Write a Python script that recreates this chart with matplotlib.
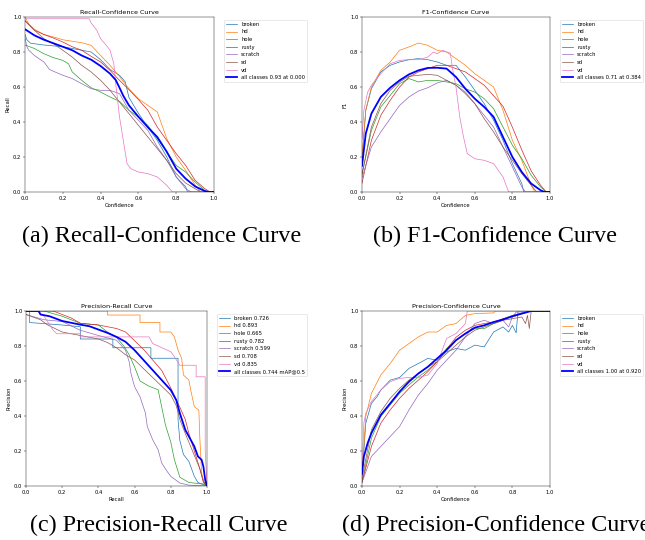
import matplotlib
matplotlib.use("Agg")
import matplotlib.pyplot as plt

# les 7 classes de défauts + courbe moyenne
CLASSES = ["broken", "hd", "hole", "rusty", "scratch", "sd", "vd"]
PR_AP = [0.726, 0.893, 0.665, 0.782, 0.599, 0.708, 0.835]

# (a) Recall-Confidence : {classe: (confiance, rappel)}
RC = {
    "broken": ([0, 0.01, 0.03, 0.1, 0.2, 0.3, 0.35, 0.4, 0.45, 0.5, 0.53, 0.55, 0.6, 0.65, 0.7, 0.75, 0.8, 0.85, 0.86, 1.0],
               [0.9, 0.87, 0.85, 0.84, 0.83, 0.81, 0.80, 0.756, 0.70, 0.667, 0.63, 0.54, 0.45, 0.37, 0.295, 0.2, 0.086, 0.03, 0, 0]),
    "hd": ([0, 0.02, 0.05, 0.1, 0.17, 0.2, 0.3, 0.35, 0.4, 0.45, 0.5, 0.55, 0.6, 0.65, 0.7, 0.75, 0.8, 0.85, 0.9, 0.93, 1.0],
           [1.0, 0.96, 0.93, 0.90, 0.88, 0.87, 0.853, 0.838, 0.78, 0.724, 0.66, 0.59, 0.533, 0.495, 0.457, 0.305, 0.2, 0.124, 0.04, 0, 0]),
    "hole": ([0, 0.05, 0.1, 0.15, 0.2, 0.23, 0.25, 0.3, 0.35, 0.4, 0.45, 0.5, 0.55, 0.6, 0.65, 0.7, 0.75, 0.8, 0.85, 0.9, 0.95, 0.97, 1.0],
             [0.84, 0.82, 0.79, 0.768, 0.752, 0.733, 0.686, 0.638, 0.596, 0.571, 0.543, 0.518, 0.467, 0.429, 0.381, 0.305, 0.229, 0.152, 0.114, 0.057, 0.01, 0, 0]),
    "rusty": ([0, 0.05, 0.1, 0.15, 0.2, 0.25, 0.3, 0.35, 0.4, 0.45, 0.5, 0.55, 0.6, 0.65, 0.7, 0.75, 0.8, 0.85, 0.9, 0.95, 0.98, 1.0],
              [0.977, 0.924, 0.9, 0.88, 0.857, 0.83, 0.81, 0.775, 0.743, 0.695, 0.638, 0.585, 0.528, 0.467, 0.371, 0.295, 0.219, 0.152, 0.067, 0.02, 0, 0]),
    "scratch": ([0, 0.01, 0.02, 0.05, 0.1, 0.13, 0.15, 0.2, 0.25, 0.3, 0.35, 0.4, 0.45, 0.5, 0.55, 0.6, 0.65, 0.7, 0.75, 0.8, 0.85, 0.88, 1.0],
                [0.88, 0.83, 0.81, 0.78, 0.743, 0.70, 0.69, 0.667, 0.648, 0.619, 0.59, 0.581, 0.581, 0.562, 0.467, 0.41, 0.352, 0.257, 0.181, 0.086, 0.019, 0, 0]),
    "sd": ([0, 0.05, 0.1, 0.15, 0.2, 0.25, 0.3, 0.35, 0.4, 0.45, 0.5, 0.55, 0.6, 0.65, 0.7, 0.75, 0.8, 0.85, 0.9, 0.93, 1.0],
           [0.98, 0.924, 0.876, 0.848, 0.81, 0.771, 0.724, 0.686, 0.638, 0.581, 0.514, 0.448, 0.381, 0.314, 0.248, 0.181, 0.105, 0.051, 0.019, 0, 0]),
    "vd": ([0, 0.34, 0.35, 0.38, 0.4, 0.43, 0.45, 0.47, 0.48, 0.5, 0.52, 0.54, 0.56, 0.6, 0.65, 0.7, 0.75, 0.78, 1.0],
           [0.99, 0.99, 0.966, 0.924, 0.876, 0.838, 0.81, 0.733, 0.619, 0.429, 0.295, 0.162, 0.133, 0.114, 0.105, 0.086, 0.038, 0, 0]),
}
RC_ALL = ([0, 0.05, 0.1, 0.2, 0.25, 0.3, 0.35, 0.4, 0.45, 0.48, 0.5, 0.52, 0.55, 0.6, 0.65, 0.7, 0.75, 0.8, 0.85, 0.9, 0.95, 0.97, 1.0],
          [0.93, 0.895, 0.87, 0.83, 0.81, 0.78, 0.756, 0.72, 0.676, 0.64, 0.596, 0.55, 0.495, 0.43, 0.37, 0.314, 0.23, 0.133, 0.076, 0.032, 0.006, 0, 0])

# (b) F1-Confidence
F1 = {
    "broken": ([0, 0.02, 0.05, 0.1, 0.15, 0.2, 0.25, 0.3, 0.35, 0.4, 0.45, 0.5, 0.55, 0.6, 0.65, 0.7, 0.75, 0.8, 0.85, 0.86, 1.0],
               [0.18, 0.467, 0.59, 0.686, 0.724, 0.743, 0.756, 0.762, 0.756, 0.743, 0.724, 0.724, 0.657, 0.581, 0.505, 0.41, 0.295, 0.162, 0.048, 0, 0]),
    "hd": ([0, 0.02, 0.05, 0.1, 0.15, 0.2, 0.25, 0.3, 0.35, 0.4, 0.45, 0.5, 0.55, 0.6, 0.65, 0.7, 0.75, 0.8, 0.85, 0.9, 0.92, 1.0],
           [0.2, 0.467, 0.6, 0.695, 0.743, 0.81, 0.829, 0.851, 0.838, 0.81, 0.8, 0.762, 0.724, 0.676, 0.638, 0.6, 0.467, 0.295, 0.181, 0.038, 0, 0]),
    "hole": ([0, 0.05, 0.1, 0.15, 0.2, 0.25, 0.3, 0.35, 0.4, 0.45, 0.5, 0.55, 0.6, 0.65, 0.7, 0.75, 0.8, 0.85, 0.9, 0.95, 0.98, 1.0],
             [0.1, 0.352, 0.486, 0.552, 0.619, 0.648, 0.629, 0.638, 0.638, 0.629, 0.619, 0.59, 0.571, 0.533, 0.476, 0.371, 0.267, 0.19, 0.095, 0.029, 0, 0]),
    "rusty": ([0, 0.05, 0.1, 0.15, 0.2, 0.25, 0.3, 0.35, 0.4, 0.45, 0.5, 0.55, 0.6, 0.65, 0.7, 0.75, 0.8, 0.85, 0.9, 0.95, 0.98, 1.0],
              [0.05, 0.295, 0.438, 0.524, 0.6, 0.657, 0.686, 0.705, 0.724, 0.724, 0.705, 0.686, 0.648, 0.61, 0.55, 0.49, 0.37, 0.24, 0.12, 0.038, 0, 0]),
    "scratch": ([0, 0.05, 0.1, 0.15, 0.2, 0.25, 0.3, 0.35, 0.4, 0.45, 0.5, 0.55, 0.6, 0.65, 0.7, 0.75, 0.8, 0.85, 0.87, 1.0],
                [0.08, 0.257, 0.343, 0.419, 0.495, 0.543, 0.577, 0.596, 0.623, 0.638, 0.61, 0.571, 0.505, 0.438, 0.371, 0.257, 0.143, 0.029, 0, 0]),
    "sd": ([0, 0.05, 0.1, 0.15, 0.2, 0.25, 0.3, 0.35, 0.4, 0.45, 0.5, 0.55, 0.6, 0.65, 0.7, 0.75, 0.8, 0.85, 0.9, 0.93, 1.0],
           [0.1, 0.371, 0.505, 0.581, 0.629, 0.661, 0.667, 0.672, 0.667, 0.638, 0.61, 0.562, 0.505, 0.419, 0.343, 0.257, 0.181, 0.105, 0.038, 0, 0]),
    "vd": ([0, 0.01, 0.03, 0.05, 0.1, 0.15, 0.2, 0.25, 0.3, 0.35, 0.38, 0.4, 0.43, 0.45, 0.47, 0.48, 0.5, 0.52, 0.54, 0.56, 0.6, 0.65, 0.7, 0.75, 0.78, 1.0],
           [0.3, 0.467, 0.571, 0.61, 0.676, 0.733, 0.752, 0.756, 0.756, 0.771, 0.8, 0.79, 0.81, 0.8, 0.794, 0.714, 0.6, 0.429, 0.314, 0.219, 0.19, 0.181, 0.162, 0.086, 0, 0]),
}
F1_ALL = ([0, 0.02, 0.05, 0.1, 0.15, 0.2, 0.25, 0.3, 0.35, 0.4, 0.45, 0.5, 0.55, 0.6, 0.65, 0.7, 0.75, 0.8, 0.85, 0.9, 0.95, 0.97, 1.0],
          [0.15, 0.333, 0.448, 0.543, 0.596, 0.638, 0.672, 0.695, 0.709, 0.71, 0.705, 0.657, 0.59, 0.533, 0.486, 0.429, 0.314, 0.2, 0.114, 0.048, 0.01, 0, 0])

# (c) Precision-Recall : {classe: (rappel, précision)}
PR = {
    "broken": ([0, 0.02, 0.02, 0.2, 0.3, 0.3, 0.43, 0.48, 0.48, 0.69, 0.69, 0.84, 0.84, 0.85, 0.87, 0.9, 0.93, 0.95, 1.0],
               [1.0, 1.0, 0.934, 0.92, 0.91, 0.84, 0.84, 0.84, 0.79, 0.79, 0.73, 0.73, 0.38, 0.26, 0.18, 0.14, 0.055, 0.02, 0.0]),
    "hd": ([0, 0.45, 0.45, 0.63, 0.63, 0.74, 0.74, 0.8, 0.82, 0.84, 0.86, 0.87, 0.9, 0.91, 0.93, 0.955, 0.96, 0.97, 0.99, 1.0],
           [1.0, 1.0, 0.977, 0.977, 0.934, 0.934, 0.88, 0.88, 0.852, 0.776, 0.729, 0.634, 0.605, 0.548, 0.453, 0.434, 0.283, 0.074, 0.0, 0.0]),
    "hole": ([0, 0.1, 0.2, 0.3, 0.4, 0.45, 0.5, 0.54, 0.57, 0.6, 0.63, 0.68, 0.73, 0.75, 0.77, 0.8, 0.82, 0.85, 0.9, 0.99, 1.0],
             [1.0, 1.0, 0.97, 0.93, 0.92, 0.88, 0.85, 0.8, 0.75, 0.68, 0.6, 0.57, 0.55, 0.45, 0.35, 0.25, 0.15, 0.05, 0.02, 0.01, 0.0]),
    "rusty": ([0, 0.15, 0.2, 0.25, 0.3, 0.4, 0.5, 0.55, 0.6, 0.65, 0.7, 0.75, 0.8, 0.85, 0.88, 0.9, 0.93, 0.96, 0.98, 1.0],
              [1.0, 1.0, 0.98, 0.96, 0.93, 0.92, 0.9, 0.88, 0.83, 0.78, 0.72, 0.66, 0.56, 0.45, 0.38, 0.3, 0.2, 0.1, 0.02, 0.0]),
    "scratch": ([0, 0.1, 0.2, 0.3, 0.4, 0.5, 0.55, 0.57, 0.58, 0.6, 0.63, 0.66, 0.67, 0.7, 0.73, 0.75, 0.78, 0.8, 0.85, 0.9, 1.0],
                [0.98, 0.95, 0.94, 0.89, 0.86, 0.833, 0.776, 0.71, 0.643, 0.567, 0.51, 0.416, 0.34, 0.264, 0.207, 0.131, 0.083, 0.055, 0.017, 0.005, 0.0]),
    "sd": ([0, 0.08, 0.12, 0.2, 0.3, 0.4, 0.45, 0.5, 0.55, 0.6, 0.65, 0.7, 0.75, 0.8, 0.83, 0.85, 0.88, 0.92, 0.96, 0.98, 1.0],
           [0.98, 0.95, 0.92, 0.88, 0.86, 0.84, 0.82, 0.79, 0.75, 0.72, 0.67, 0.62, 0.57, 0.52, 0.46, 0.38, 0.3, 0.2, 0.1, 0.03, 0.0]),
    "vd": ([0, 0.06, 0.1, 0.15, 0.17, 0.3, 0.3, 0.68, 0.7, 0.8, 0.82, 0.85, 0.94, 0.94, 0.99, 0.99, 1.0],
           [1.0, 1.0, 0.97, 0.89, 0.87, 0.87, 0.852, 0.852, 0.814, 0.767, 0.738, 0.69, 0.69, 0.624, 0.624, 0.2, 0.0]),
}
PR_ALL = ([0, 0.07, 0.08, 0.13, 0.2, 0.3, 0.35, 0.4, 0.45, 0.5, 0.55, 0.6, 0.65, 0.7, 0.75, 0.8, 0.83, 0.85, 0.88, 0.9, 0.93, 0.95, 0.97, 0.98, 0.99, 1.0],
          [1.0, 1.0, 0.98, 0.97, 0.943, 0.922, 0.913, 0.894, 0.875, 0.852, 0.824, 0.776, 0.719, 0.662, 0.605, 0.548, 0.491, 0.416, 0.321, 0.283, 0.226, 0.169, 0.15, 0.112, 0.036, 0.0])

# (d) Precision-Confidence
PC = {
    "broken": ([0, 0.02, 0.05, 0.08, 0.1, 0.15, 0.2, 0.25, 0.3, 0.35, 0.4, 0.45, 0.5, 0.55, 0.6, 0.65, 0.7, 0.75, 0.78, 0.8, 0.82, 0.83, 1.0],
               [0.05, 0.359, 0.472, 0.51, 0.548, 0.605, 0.62, 0.672, 0.7, 0.729, 0.719, 0.767, 0.786, 0.776, 0.805, 0.795, 0.88, 0.909, 0.88, 0.918, 0.875, 1.0, 1.0]),
    "hd": ([0, 0.02, 0.05, 0.1, 0.15, 0.2, 0.25, 0.3, 0.35, 0.4, 0.45, 0.5, 0.55, 0.6, 0.7, 0.71, 1.0],
           [0.05, 0.397, 0.529, 0.634, 0.7, 0.776, 0.814, 0.852, 0.88, 0.88, 0.918, 0.928, 0.975, 0.985, 0.989, 1.0, 1.0]),
    "hole": ([0, 0.05, 0.1, 0.15, 0.2, 0.25, 0.3, 0.35, 0.4, 0.45, 0.5, 0.55, 0.6, 0.65, 0.7, 0.75, 0.8, 0.85, 0.9, 1.0],
             [0.02, 0.273, 0.397, 0.463, 0.529, 0.577, 0.624, 0.662, 0.71, 0.786, 0.833, 0.871, 0.899, 0.899, 0.928, 0.956, 0.975, 0.989, 1.0, 1.0]),
    "rusty": ([0, 0.05, 0.1, 0.15, 0.2, 0.25, 0.3, 0.35, 0.4, 0.45, 0.5, 0.55, 0.6, 0.65, 0.7, 0.75, 0.8, 0.85, 0.9, 1.0],
              [0.02, 0.226, 0.359, 0.435, 0.501, 0.558, 0.605, 0.653, 0.71, 0.78, 0.85, 0.89, 0.918, 0.928, 0.937, 0.956, 0.966, 0.985, 1.0, 1.0]),
    "scratch": ([0, 0.05, 0.1, 0.15, 0.2, 0.25, 0.3, 0.35, 0.4, 0.45, 0.5, 0.55, 0.6, 0.65, 0.7, 0.75, 0.78, 0.8, 0.82, 1.0],
                [0.02, 0.169, 0.226, 0.283, 0.34, 0.435, 0.52, 0.586, 0.662, 0.719, 0.776, 0.852, 0.928, 0.947, 0.928, 0.947, 0.909, 0.966, 0.994, 1.0]),
    "sd": ([0, 0.05, 0.1, 0.15, 0.2, 0.25, 0.3, 0.35, 0.4, 0.45, 0.5, 0.55, 0.6, 0.65, 0.7, 0.75, 0.8, 0.85, 0.87, 0.88, 0.89, 0.9, 1.0],
           [0.04, 0.321, 0.425, 0.501, 0.558, 0.605, 0.643, 0.681, 0.71, 0.757, 0.805, 0.852, 0.89, 0.909, 0.928, 0.947, 0.956, 0.966, 0.928, 0.975, 0.9, 1.0, 1.0]),
    "vd": ([0, 0.01, 0.02, 0.05, 0.1, 0.15, 0.2, 0.25, 0.3, 0.35, 0.4, 0.45, 0.5, 0.55, 0.56, 1.0],
           [0.05, 0.36, 0.415, 0.482, 0.548, 0.596, 0.615, 0.62, 0.62, 0.634, 0.7, 0.843, 0.871, 0.928, 1.0, 1.0]),
}
PC_ALL = ([0, 0.01, 0.03, 0.05, 0.1, 0.15, 0.2, 0.25, 0.3, 0.35, 0.4, 0.45, 0.5, 0.55, 0.6, 0.65, 0.7, 0.75, 0.8, 0.85, 0.9, 1.0],
          [0.07, 0.169, 0.245, 0.302, 0.406, 0.472, 0.539, 0.596, 0.643, 0.681, 0.729, 0.776, 0.833, 0.871, 0.905, 0.918, 0.937, 0.951, 0.97, 0.985, 1.0, 1.0])

W, H = 645, 540

# style réduit (figure ultralytics miniaturisée)
plt.rcParams.update({
    "font.size": 3.8,
    "axes.titlesize": 4.6,
    "axes.titlepad": 2.3,
    "axes.labelpad": 1.5,
    "axes.linewidth": 0.3,
    "xtick.major.size": 1.3, "ytick.major.size": 1.3,
    "xtick.major.width": 0.3, "ytick.major.width": 0.3,
    "xtick.major.pad": 1.3, "ytick.major.pad": 1.3,
    "legend.fontsize": 3.8,
    "patch.linewidth": 0.38,
})


def ax_pixels(fig, left, top, right, bottom):
    """Crée un axe à partir d'une boîte en pixels"""
    return fig.add_axes([left / W, 1 - bottom / H, (right - left) / W, (bottom - top) / H])


def draw_panel(ax, curves, all_curve, labels, all_label, title, xlabel, ylabel):
    for name, lab in zip(CLASSES, labels):
        x, y = curves[name]
        ax.plot(x, y, linewidth=0.5, label=lab)
    ax.plot(all_curve[0], all_curve[1], linewidth=1.3, color="blue", label=all_label)
    ax.set_xlim(0, 1)
    ax.set_ylim(0, 1)
    ax.set_title(title)
    ax.set_xlabel(xlabel)
    ax.set_ylabel(ylabel)
    ax.legend(bbox_to_anchor=(1.04, 1), loc="upper left")


fig = plt.figure(figsize=(W / 100, H / 100), dpi=100)

ax_a = ax_pixels(fig, 25, 17, 214, 192)
draw_panel(ax_a, RC, RC_ALL, CLASSES, "all classes 0.93 at 0.000",
           "Recall-Confidence Curve", "Confidence", "Recall")

ax_b = ax_pixels(fig, 362, 17, 550, 192)
draw_panel(ax_b, F1, F1_ALL, CLASSES, "all classes 0.71 at 0.384",
           "F1-Confidence Curve", "Confidence", "F1")

ax_c = ax_pixels(fig, 26, 311, 207, 486)
pr_labels = [f"{c} {ap:.3f}" for c, ap in zip(CLASSES, PR_AP)]
draw_panel(ax_c, PR, PR_ALL, pr_labels, "all classes 0.744 mAP@0.5",
           "Precision-Recall Curve", "Recall", "Precision")

ax_d = ax_pixels(fig, 362, 311, 550, 486)
draw_panel(ax_d, PC, PC_ALL, CLASSES, "all classes 1.00 at 0.920",
           "Precision-Confidence Curve", "Confidence", "Precision")

# légendes des sous-figures
cap = dict(family="Liberation Serif", fontsize=17.4, va="center", ha="left")
fig.text(22 / W, 1 - 236 / H, "(a) Recall-Confidence Curve", **cap)
fig.text(373 / W, 1 - 236 / H, "(b) F1-Confidence Curve", **cap)
fig.text(30 / W, 1 - 525 / H, "(c) Precision-Recall Curve", **cap)
fig.text(342 / W, 1 - 525 / H, "(d) Precision-Confidence Curve", **cap)

fig.savefig("out.png", dpi=100)
